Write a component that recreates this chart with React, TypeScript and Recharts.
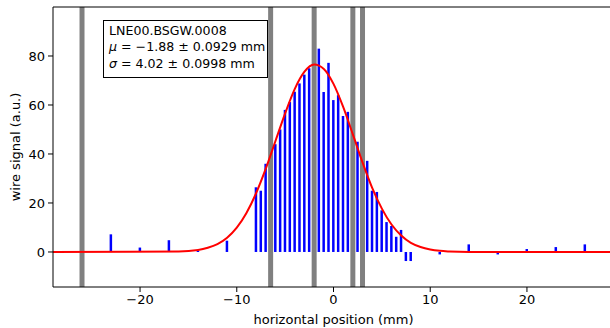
import React from 'react';
import {
  ComposedChart,
  Bar,
  Line,
  XAxis,
  YAxis,
  ReferenceLine,
} from 'recharts';

const FONT = '"DejaVu Sans", sans-serif';

// wire positions (mm) and measured signal (a.u.)
const wirePositions = [
  -23, -20, -17, -14, -11,
  -8, -7.5, -7, -6, -5.5, -5, -4.5, -4, -3.5, -3, -2.5,
  -1.5, -1, -0.5, 0, 0.5, 1, 1.5, 2.5, 3.5, 4, 4.5, 5, 5.5, 6, 6.5, 7, 7.5, 8,
  11, 14, 17, 20, 23, 26,
];
const wireSignal = [
  7.2, 1.8, 4.8, 0.5, 4.6,
  26.4, 25, 36, 44, 50, 58, 61.2, 65.4, 68.8, 72.4, 75,
  83, 65.3, 77.2, 62, 64, 55.5, 57.2, 45, 37.2, 25, 24.5, 17, 12.2, 10.6, 6.2, 9, -3.7, -3.7,
  -1, 3.1, -1, 1.2, 2, 3.1,
];

// fitted gaussian
const fitPositions = [
  -29, -16, -14, -13, -12, -11, -10, -9, -8, -7, -6, -5, -4, -3, -2, -1,
  0, 1, 2, 3, 4, 5, 6, 7, 8, 9, 10, 11, 12, 14, 29,
];
const fitSignal = [
  0, 0.2, 0.8, 1.7, 3.2, 5.8, 9.9, 15.9, 24, 34, 45.3, 56.6, 66.6, 73.6, 76.5, 74.7,
  68.6, 59.2, 48, 36.6, 26.2, 17.7, 11.2, 6.7, 3.7, 2, 1, 0.45, 0.2, 0, 0,
];

// masked wires (grey bands)
const maskedWires = [-26, -6.5, -2, 2, 3];

const xTicks = [-20, -10, 0, 10, 20];
const yTicks = [0, 20, 40, 60, 80];

const fitLabel = 'LNE00.BSGW.0008';
const fitMu = '−1.88 ± 0.0929';
const fitSigma = '4.02 ± 0.0998';

type Row = { x: number; signal?: number; fit?: number };

function buildData(): Row[] {
  const rows = new Map<number, Row>();
  wirePositions.forEach((x, i) => {
    rows.set(x, { ...(rows.get(x) || { x }), signal: wireSignal[i] });
  });
  fitPositions.forEach((x, i) => {
    rows.set(x, { ...(rows.get(x) || { x }), fit: fitSignal[i] });
  });
  return Array.from(rows.values()).sort((a, b) => a.x - b.x);
}

const data = buildData();

const fmt = (v: number) => (v < 0 ? `−${Math.abs(v)}` : `${v}`);

const tickStyle = { fontSize: 13, fill: '#000', fontFamily: FONT };

function YLabel(props: any) {
  const vb = props.viewBox || {};
  const cx = vb.x + 15;
  const cy = vb.y + vb.height / 2;
  return (
    <text
      x={cx}
      y={cy}
      transform={`rotate(-90, ${cx}, ${cy})`}
      textAnchor="middle"
      dominantBaseline="central"
      fontSize={13}
      fontFamily={FONT}
      fill="#000"
    >
      wire signal (a.u.)
    </text>
  );
}

function XLabel(props: any) {
  const vb = props.viewBox || {};
  return (
    <text
      x={vb.x + vb.width / 2}
      y={vb.y + 32}
      textAnchor="middle"
      dominantBaseline="central"
      fontSize={13}
      fontFamily={FONT}
      fill="#000"
    >
      horizontal position (mm)
    </text>
  );
}

export default function App() {
  return (
    <div
      style={{
        position: 'absolute',
        left: 0,
        top: 0,
        width: 610,
        height: 328,
        overflow: 'hidden',
        background: '#fff',
      }}
    >
      <ComposedChart
        width={616}
        height={328}
        data={data}
        margin={{ top: 7, right: 2, bottom: 0, left: 0 }}
      >
        <XAxis
          dataKey="x"
          type="number"
          domain={[-29, 29]}
          ticks={xTicks}
          tickFormatter={fmt}
          stroke="#000"
          tickSize={5}
          tickMargin={3}
          height={41}
          tick={tickStyle}
          label={<XLabel />}
        />
        <YAxis
          type="number"
          domain={[-14.3, 100]}
          ticks={yTicks}
          stroke="#000"
          tickSize={5}
          tickMargin={3}
          width={53}
          tick={tickStyle}
          label={<YLabel />}
        />
        <Bar
          dataKey="signal"
          fill="#0000ff"
          barSize={2.5}
          isAnimationActive={false}
        />
        {maskedWires.map((x) => (
          <ReferenceLine key={x} x={x} stroke="#808080" strokeWidth={5} />
        ))}
        <ReferenceLine y={100} stroke="#000" strokeWidth={1} />
        <Line
          dataKey="fit"
          type="monotone"
          stroke="#ff0000"
          strokeWidth={2}
          dot={false}
          connectNulls
          isAnimationActive={false}
        />
      </ComposedChart>
      <div
        style={{
          position: 'absolute',
          left: 103,
          top: 20,
          width: 165,
          height: 58,
          boxSizing: 'border-box',
          border: '1px solid #000',
          background: '#fff',
          padding: '2px 0 0 5px',
          fontFamily: FONT,
          fontSize: 12.6,
          lineHeight: '16.3px',
          color: '#000',
          whiteSpace: 'nowrap',
        }}
      >
        <div>{fitLabel}</div>
        <div>
          <i>μ</i> = {fitMu} mm
        </div>
        <div>
          <i>σ</i> = {fitSigma} mm
        </div>
      </div>
    </div>
  );
}
